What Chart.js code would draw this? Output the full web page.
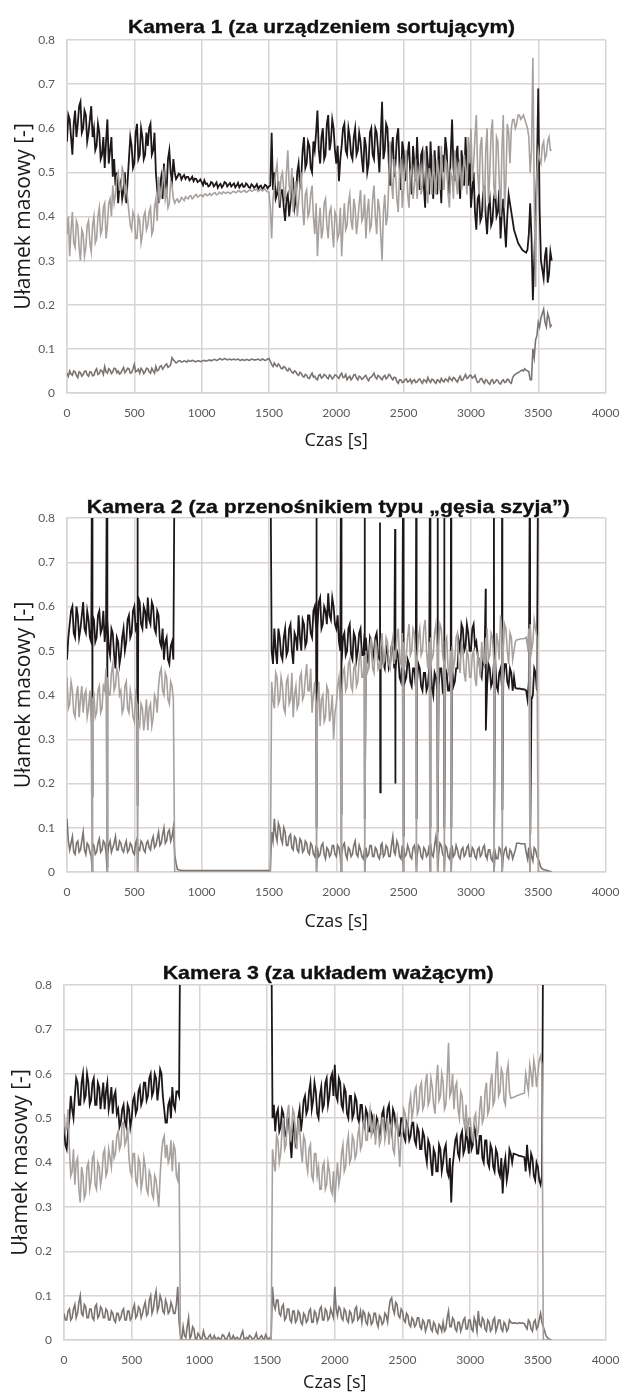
<!DOCTYPE html>
<html><head><meta charset="utf-8">
<script src="https://cdn.jsdelivr.net/npm/chart.js@4.4.1/dist/chart.umd.min.js"></script>
<style>
html,body{margin:0;padding:0;background:#fff;}
body{position:relative;width:632px;height:1394px;overflow:hidden;}
canvas{position:absolute;left:0;}
.ttl{position:absolute;white-space:nowrap;font-family:'Liberation Sans',Arial,sans-serif;font-weight:bold;font-size:18.6px;line-height:18.6px;color:#111;-webkit-text-stroke:0.35px #111;transform-origin:50% 50%;}
</style></head><body>
<canvas id="c1" width="632" height="480" style="top:0px"></canvas>
<canvas id="c2" width="632" height="480" style="top:470px"></canvas>
<canvas id="c3" width="632" height="464" style="top:930px"></canvas>
<div class="ttl" id="t1">Kamera 1 (za urządzeniem sortującym)</div>
<div class="ttl" id="t2">Kamera 2 (za przenośnikiem typu „gęsia szyja”)</div>
<div class="ttl" id="t3">Kamera 3 (za układem ważącym)</div>
<script>
// ---------- DATA ----------
const xTickLabels = ['0','500','1000','1500','2000','2500','3000','3500','4000'];
const yTickLabels = ['0','0.1','0.2','0.3','0.4','0.5','0.6','0.7','0.8'];
const tStep = 20; // main samples at t = 0, 20, ... 3600 s
const times = Array.from({length: 181}, (_, i) => i * tStep);
const midTimes = Array.from({length: 180}, (_, i) => i * tStep + 10); // in-between samples t = 10, 30, ... 3590 s

// Kamera 1
const k1Black = [
0.57,0.62,0.54,0.64,0.61,0.66,0.60,0.63,0.59,0.65,
0.60,0.56,0.59,0.54,0.51,0.62,0.55,0.49,0.47,0.43,
0.48,0.46,0.43,0.53,0.56,0.52,0.61,0.54,0.58,0.54,
0.56,0.61,0.55,0.50,0.43,0.49,0.52,0.46,0.55,0.48,
0.50,0.49,0.495,0.49,0.485,0.49,0.485,0.48,0.485,0.48,
0.478,0.482,0.475,0.47,0.476,0.472,0.465,0.474,0.47,0.476,
0.472,0.468,0.475,0.47,0.466,0.474,0.468,0.472,0.465,0.47,
0.468,0.462,0.47,0.465,0.47,0.468,0.59,0.50,0.45,0.42,
0.46,0.39,0.45,0.43,0.48,0.44,0.52,0.49,0.58,0.52,
0.56,0.50,0.55,0.64,0.52,0.60,0.54,0.63,0.57,0.60,
0.52,0.48,0.56,0.61,0.54,0.58,0.53,0.60,0.55,0.57,
0.50,0.56,0.52,0.60,0.53,0.59,0.50,0.66,0.55,0.60,
0.47,0.58,0.52,0.60,0.46,0.55,0.50,0.57,0.45,0.52,
0.58,0.46,0.55,0.42,0.52,0.57,0.44,0.50,0.56,0.43,
0.50,0.55,0.45,0.62,0.48,0.56,0.44,0.52,0.58,0.47,
0.42,0.50,0.37,0.45,0.40,0.47,0.36,0.44,0.39,0.46,
0.41,0.35,0.44,0.33,0.45,0.41,0.37,0.35,0.335,0.325,
0.32,0.325,0.43,0.21,0.40,0.69,0.30,0.26,0.33,0.27,
0.30];
const k1BlackMid = [
0.63,0.58,0.61,0.58,0.65,0.59,0.64,0.57,0.62,0.58,
0.55,0.61,0.53,0.58,0.57,0.52,0.58,0.53,0.50,0.47,
0.44,0.50,0.48,0.58,0.51,0.59,0.53,0.60,0.53,0.59,
0.60,0.54,0.59,0.46,0.47,0.44,0.47,0.53,0.50,0.53,
0.485,0.497,0.484,0.494,0.49,0.482,0.49,0.486,0.478,0.484,
0.471,0.474,0.468,0.478,0.468,0.477,0.471,0.466,0.478,0.468,
0.476,0.472,0.466,0.476,0.471,0.467,0.475,0.466,0.473,0.465,
0.473,0.468,0.463,0.472,0.464,0.47,0.46,0.44,0.48,0.46,
0.42,0.44,0.40,0.47,0.42,0.50,0.47,0.55,0.51,0.57,
0.51,0.57,0.59,0.55,0.58,0.53,0.61,0.55,0.62,0.55,
0.56,0.53,0.60,0.55,0.60,0.54,0.58,0.54,0.59,0.53,
0.58,0.50,0.59,0.54,0.60,0.55,0.58,0.53,0.61,0.52,
0.55,0.49,0.58,0.51,0.57,0.48,0.54,0.49,0.56,0.48,
0.50,0.54,0.47,0.56,0.45,0.50,0.55,0.45,0.49,0.54,
0.58,0.47,0.54,0.51,0.54,0.48,0.55,0.47,0.50,0.55,
0.46,0.41,0.44,0.39,0.45,0.40,0.42,0.38,0.44,0.40,
0.46,0.41,0.38,0.40,0.43,0.39,0.36,0.34,0.33,0.322,
0.318,0.36,0.35,0.30,0.50,0.42,0.28,0.31,0.25,0.32];
const k1Light = [
0.36,0.31,0.41,0.33,0.38,0.30,0.36,0.33,0.39,0.32,
0.40,0.35,0.42,0.37,0.43,0.38,0.44,0.47,0.45,0.50,
0.46,0.50,0.47,0.41,0.37,0.40,0.35,0.39,0.36,0.41,
0.38,0.42,0.37,0.44,0.49,0.45,0.50,0.46,0.43,0.47,
0.43,0.44,0.435,0.44,0.445,0.44,0.447,0.443,0.45,0.446,
0.448,0.45,0.447,0.452,0.45,0.454,0.45,0.453,0.456,0.452,
0.455,0.453,0.457,0.455,0.458,0.456,0.459,0.456,0.46,0.458,
0.46,0.457,0.462,0.46,0.458,0.455,0.35,0.47,0.52,0.44,
0.50,0.43,0.55,0.45,0.41,0.48,0.43,0.50,0.38,0.46,
0.41,0.47,0.36,0.31,0.42,0.37,0.44,0.35,0.42,0.33,
0.40,0.36,0.31,0.43,0.38,0.45,0.37,0.42,0.39,0.46,
0.40,0.35,0.44,0.38,0.47,0.36,0.42,0.30,0.45,0.40,
0.57,0.44,0.50,0.41,0.53,0.46,0.55,0.42,0.51,0.47,
0.44,0.52,0.47,0.55,0.43,0.49,0.54,0.45,0.50,0.56,
0.46,0.52,0.42,0.49,0.55,0.45,0.53,0.48,0.51,0.58,
0.60,0.52,0.63,0.45,0.58,0.41,0.60,0.50,0.62,0.44,
0.57,0.40,0.63,0.48,0.59,0.60,0.62,0.61,0.63,0.625,
0.62,0.60,0.50,0.76,0.24,0.55,0.52,0.57,0.54,0.58,
0.55];
const k1LightMid = [
0.40,0.37,0.34,0.39,0.33,0.37,0.31,0.38,0.34,0.38,
0.34,0.40,0.36,0.42,0.35,0.43,0.40,0.43,0.49,0.46,
0.51,0.45,0.44,0.38,0.41,0.35,0.40,0.34,0.40,0.37,
0.41,0.36,0.42,0.39,0.44,0.48,0.44,0.42,0.48,0.44,
0.437,0.432,0.443,0.436,0.442,0.446,0.44,0.448,0.444,0.449,
0.445,0.451,0.449,0.448,0.453,0.449,0.455,0.451,0.454,0.455,
0.452,0.456,0.454,0.458,0.455,0.458,0.455,0.459,0.457,0.461,
0.462,0.46,0.458,0.463,0.456,0.42,0.44,0.50,0.46,0.49,
0.46,0.50,0.47,0.51,0.46,0.40,0.47,0.42,0.45,0.40,
0.45,0.40,0.43,0.38,0.35,0.43,0.38,0.41,0.37,0.41,
0.35,0.42,0.38,0.37,0.43,0.39,0.44,0.36,0.43,0.39,
0.45,0.41,0.37,0.44,0.40,0.44,0.36,0.41,0.38,0.48,
0.48,0.53,0.44,0.50,0.42,0.51,0.45,0.50,0.44,0.53,
0.49,0.45,0.53,0.46,0.51,0.45,0.48,0.53,0.46,0.49,
0.53,0.45,0.50,0.44,0.48,0.52,0.46,0.54,0.45,0.52,
0.48,0.58,0.50,0.56,0.47,0.55,0.43,0.59,0.47,0.58,
0.48,0.55,0.42,0.61,0.52,0.62,0.60,0.63,0.62,0.63,
0.61,0.58,0.55,0.45,0.50,0.53,0.56,0.53,0.57,0.55];
const k1Dark = [
0.045,0.05,0.04,0.048,0.035,0.046,0.042,0.05,0.038,0.047,
0.04,0.055,0.044,0.05,0.06,0.045,0.052,0.048,0.055,0.05,
0.045,0.058,0.05,0.055,0.046,0.065,0.05,0.045,0.052,0.048,
0.055,0.045,0.05,0.06,0.052,0.062,0.058,0.066,0.06,0.08,
0.072,0.07,0.073,0.071,0.072,0.074,0.072,0.073,0.071,0.073,
0.072,0.074,0.073,0.075,0.074,0.076,0.075,0.078,0.076,0.077,
0.076,0.075,0.077,0.076,0.075,0.076,0.074,0.076,0.075,0.076,
0.075,0.077,0.074,0.076,0.075,0.078,0.065,0.068,0.06,0.062,
0.055,0.058,0.05,0.053,0.045,0.048,0.04,0.044,0.036,0.04,
0.033,0.045,0.038,0.03,0.042,0.036,0.04,0.032,0.038,0.035,
0.04,0.033,0.045,0.036,0.03,0.038,0.034,0.042,0.03,0.036,
0.033,0.04,0.028,0.036,0.045,0.032,0.038,0.03,0.04,0.035,
0.04,0.03,0.035,0.022,0.03,0.025,0.032,0.027,0.022,0.03,
0.025,0.032,0.022,0.028,0.035,0.024,0.03,0.022,0.028,0.033,
0.025,0.03,0.036,0.028,0.033,0.025,0.038,0.03,0.042,0.035,
0.04,0.036,0.03,0.025,0.033,0.022,0.028,0.02,0.03,0.025,
0.028,0.02,0.03,0.025,0.03,0.022,0.04,0.045,0.048,0.052,
0.055,0.05,0.03,0.10,0.12,0.16,0.17,0.19,0.15,0.17,
0.155];
const k1DarkMid = [
0.038,0.043,0.05,0.04,0.048,0.038,0.049,0.041,0.048,0.039,
0.05,0.042,0.052,0.042,0.048,0.055,0.044,0.056,0.046,0.043,
0.052,0.046,0.056,0.045,0.055,0.048,0.054,0.056,0.044,0.056,
0.048,0.056,0.045,0.05,0.06,0.054,0.063,0.058,0.064,0.075,
0.068,0.073,0.07,0.073,0.07,0.072,0.074,0.071,0.073,0.071,
0.073,0.072,0.074,0.073,0.076,0.074,0.077,0.075,0.078,0.075,
0.077,0.076,0.075,0.077,0.074,0.075,0.076,0.074,0.077,0.075,
0.076,0.075,0.077,0.074,0.077,0.072,0.06,0.063,0.066,0.056,
0.06,0.052,0.056,0.047,0.05,0.042,0.047,0.038,0.042,0.034,
0.04,0.036,0.032,0.04,0.034,0.042,0.035,0.041,0.032,0.041,
0.036,0.041,0.035,0.042,0.035,0.03,0.041,0.034,0.038,0.031,
0.038,0.032,0.035,0.04,0.036,0.04,0.033,0.037,0.032,0.042,
0.034,0.036,0.026,0.03,0.024,0.03,0.025,0.031,0.028,0.024,
0.03,0.026,0.03,0.024,0.028,0.031,0.025,0.03,0.024,0.028,
0.032,0.026,0.031,0.035,0.028,0.033,0.029,0.036,0.033,0.04,
0.034,0.04,0.024,0.032,0.026,0.03,0.022,0.028,0.022,0.03,
0.022,0.027,0.024,0.031,0.024,0.035,0.042,0.046,0.05,0.05,
0.052,0.048,0.03,0.08,0.13,0.15,0.18,0.16,0.18,0.15];

// Kamera 2
const k2Black = [
0.48,0.56,0.60,0.53,0.58,0.55,0.61,0.54,0.57,0.52,
0.57,0.53,0.59,0.55,0.52,0.57,0.49,0.54,0.46,0.52,
0.49,0.55,0.52,0.58,0.54,0.60,0.56,0.61,0.55,0.59,
0.62,0.56,0.60,0.54,0.58,0.51,0.48,0.53,0.47,0.52,
1,1,1,1,1,1,1,1,1,1,
1,1,1,1,1,1,1,1,1,1,
1,1,1,1,1,1,1,1,1,1,
1,1,1,1,1,1,0.50,0.55,0.47,0.53,
0.48,0.55,0.50,0.56,0.47,0.53,0.58,0.50,0.56,0.52,
0.58,0.53,0.60,0.55,0.62,0.56,0.59,0.63,0.57,0.60,
0.55,0.52,0.47,0.54,0.50,0.56,0.48,0.53,0.50,0.55,
0.49,0.53,0.47,0.52,0.50,0.54,0.48,0.51,0.46,0.50,
0.47,0.52,0.45,0.49,0.43,0.48,0.44,0.47,0.42,0.46,
0.43,0.46,0.41,0.45,0.42,0.47,0.40,0.44,0.42,0.46,
0.42,0.45,0.41,0.47,0.43,0.46,0.50,0.55,0.51,0.54,
0.50,0.56,0.52,0.48,0.44,0.47,0.42,0.46,0.43,0.48,
0.41,0.46,0.43,0.47,0.42,0.45,0.44,0.415,0.415,0.413,
0.412,0.39,0.44,0.40,0.45,1,1,1,1,1,
1];
const k2BlackMid = [
0.53,0.59,0.54,0.60,0.53,0.58,0.55,0.59,0.53,0.58,
0.52,0.58,0.54,0.59,0.56,0.51,0.55,0.49,0.53,0.47,
0.53,0.50,0.57,0.53,0.59,0.55,0.62,0.56,0.60,0.55,
0.57,0.61,0.55,0.59,0.52,0.55,0.52,0.48,0.51,0.48,
1,1,1,1,1,1,1,1,1,1,
1,1,1,1,1,1,1,1,1,1,
1,1,1,1,1,1,1,1,1,1,
1,1,1,1,1,1,0.47,0.50,0.55,0.49,
0.53,0.49,0.55,0.50,0.54,0.50,0.53,0.57,0.51,0.58,
0.54,0.59,0.55,0.61,0.55,0.60,0.56,0.58,0.62,0.56,
0.58,0.50,0.53,0.49,0.55,0.49,0.54,0.48,0.54,0.49,
0.54,0.48,0.53,0.48,0.53,0.49,0.52,0.47,0.51,0.46,
0.51,0.46,0.50,0.44,0.48,0.43,0.48,0.43,0.46,0.42,
0.47,0.42,0.45,0.41,0.46,0.42,0.45,0.41,0.46,0.41,
0.46,0.41,0.46,0.42,0.46,0.52,0.56,0.50,0.56,0.50,
0.55,0.51,0.49,0.45,0.48,0.43,0.47,0.42,0.47,0.42,
0.45,0.42,0.47,0.43,0.46,0.41,0.416,0.414,0.414,0.413,
0.41,0.43,0.39,0.46,0.41,1,1,1,1,1];
const k2Light = [
0.44,0.38,0.41,0.35,0.42,0.39,0.36,0.41,0.37,0.33,
0.40,0.36,0.42,0.37,0.41,0.44,0.40,0.47,0.42,0.45,
0.41,0.37,0.43,0.36,0.39,0.34,0.38,0.33,0.37,0.35,
0.32,0.38,0.35,0.39,0.42,0.46,0.40,0.44,0.38,0.42,
0,0,0,0,0,0,0,0,0,0,
0,0,0,0,0,0,0,0,0,0,
0,0,0,0,0,0,0,0,0,0,
0,0,0,0,0,0,0.43,0.37,0.44,0.39,
0.42,0.36,0.44,0.39,0.35,0.42,0.38,0.45,0.40,0.47,
0.41,0.36,0.43,0.38,0.33,0.40,0.35,0.41,0.36,0.30,
0.38,0.44,0.40,0.46,0.42,0.48,0.41,0.47,0.43,0.50,
0.44,0.50,0.46,0.53,0.45,0.51,0.47,0.54,0.48,0.52,
0.46,0.53,0.48,0.55,0.47,0.52,0.49,0.56,0.50,0.54,
0.48,0.55,0.50,0.57,0.46,0.53,0.49,0.56,0.51,0.55,
0.47,0.53,0.44,0.51,0.48,0.54,0.45,0.50,0.43,0.49,
0.44,0.50,0.42,0.48,0.52,0.47,0.55,0.49,0.53,0.46,
0.52,0.58,0.50,0.55,0.47,0.53,0.50,0.525,0.526,0.527,
0.528,0.51,0.56,0.52,0.55,0,0,0,0,0,
0];
const k2LightMid = [
0.37,0.43,0.36,0.40,0.35,0.42,0.40,0.35,0.41,0.39,
0.35,0.41,0.36,0.42,0.46,0.40,0.45,0.41,0.46,0.40,
0.36,0.42,0.37,0.41,0.35,0.40,0.34,0.38,0.32,0.39,
0.37,0.33,0.40,0.36,0.45,0.41,0.45,0.39,0.43,0.39,
0,0,0,0,0,0,0,0,0,0,
0,0,0,0,0,0,0,0,0,0,
0,0,0,0,0,0,0,0,0,0,
0,0,0,0,0,0,0.39,0.45,0.38,0.44,
0.37,0.43,0.38,0.45,0.40,0.37,0.44,0.39,0.44,0.41,
0.46,0.40,0.37,0.43,0.39,0.34,0.42,0.34,0.40,0.36,
0.42,0.38,0.45,0.41,0.47,0.42,0.46,0.42,0.48,0.44,
0.49,0.45,0.51,0.46,0.52,0.46,0.51,0.47,0.53,0.47,
0.51,0.47,0.53,0.48,0.54,0.47,0.53,0.49,0.55,0.48,
0.53,0.49,0.55,0.50,0.52,0.48,0.54,0.50,0.56,0.49,
0.52,0.46,0.50,0.46,0.53,0.47,0.52,0.45,0.50,0.44,
0.49,0.44,0.49,0.44,0.48,0.53,0.48,0.54,0.48,0.54,
0.48,0.54,0.56,0.50,0.54,0.48,0.52,0.525,0.527,0.527,
0.53,0.55,0.50,0.57,0.53,0,0,0,0,0];
const k2Dark = [
0.12,0.05,0.08,0.04,0.07,0.05,0.09,0.04,0.06,0.035,
0.06,0.045,0.075,0.05,0.065,0.04,0.07,0.055,0.08,0.05,
0.065,0.045,0.07,0.05,0.06,0.04,0.075,0.05,0.065,0.045,
0.07,0.05,0.08,0.06,0.09,0.065,0.10,0.07,0.095,0.08,
0.04,0.006,0.004,0.003,0.003,0.003,0.003,0.003,0.003,0.003,
0.003,0.003,0.003,0.003,0.003,0.003,0.003,0.003,0.003,0.003,
0.003,0.003,0.003,0.003,0.003,0.003,0.003,0.003,0.003,0.003,
0.003,0.003,0.003,0.003,0.003,0.003,0.09,0.12,0.07,0.10,
0.065,0.09,0.06,0.085,0.05,0.075,0.045,0.07,0.05,0.065,
0.04,0.06,0.035,0.055,0.04,0.065,0.03,0.05,0.04,0.06,
0.035,0.055,0.04,0.065,0.03,0.05,0.04,0.07,0.035,0.05,
0.03,0.055,0.04,0.06,0.035,0.05,0.03,0.065,0.04,0.055,
0.035,0.08,0.04,0.06,0.03,0.055,0.04,0.05,0.03,0.06,
0.035,0.055,0.03,0.05,0.04,0.065,0.035,0.08,0.04,0.06,
0.035,0.055,0.03,0.06,0.04,0.05,0.03,0.055,0.04,0.06,
0.035,0.05,0.03,0.055,0.04,0.06,0.03,0.05,0.025,0.045,
0.03,0.05,0.035,0.055,0.03,0.045,0.04,0.065,0.065,0.064,
0.064,0.03,0.06,0.025,0.05,0.03,0.01,0.005,0.004,0.002,
0];
const k2DarkMid = [
0.07,0.065,0.045,0.065,0.045,0.07,0.05,0.065,0.045,0.065,
0.04,0.065,0.045,0.07,0.045,0.06,0.045,0.065,0.05,0.07,
0.05,0.06,0.045,0.065,0.045,0.065,0.055,0.07,0.05,0.065,
0.055,0.07,0.055,0.075,0.06,0.085,0.065,0.09,0.07,0.10,
0.02,0.005,0.004,0.003,0.003,0.003,0.003,0.003,0.003,0.003,
0.003,0.003,0.003,0.003,0.003,0.003,0.003,0.003,0.003,0.003,
0.003,0.003,0.003,0.003,0.003,0.003,0.003,0.003,0.003,0.003,
0.003,0.003,0.003,0.003,0.003,0.003,0.07,0.085,0.11,0.075,
0.10,0.06,0.08,0.055,0.08,0.05,0.075,0.045,0.07,0.045,
0.065,0.04,0.06,0.035,0.06,0.04,0.055,0.035,0.06,0.04,
0.06,0.035,0.06,0.04,0.055,0.035,0.06,0.04,0.06,0.035,
0.05,0.035,0.06,0.035,0.055,0.035,0.06,0.035,0.06,0.035,
0.06,0.045,0.07,0.035,0.06,0.035,0.06,0.035,0.055,0.04,
0.06,0.035,0.055,0.035,0.06,0.04,0.06,0.045,0.065,0.04,
0.06,0.035,0.055,0.035,0.06,0.035,0.05,0.035,0.055,0.035,
0.055,0.035,0.05,0.035,0.055,0.035,0.05,0.03,0.05,0.03,
0.055,0.03,0.05,0.035,0.05,0.03,0.05,0.065,0.064,0.064,
0.045,0.055,0.035,0.055,0.035,0.02,0.007,0.005,0.003,0.001];
// Kamera 2 short spikes (time [s], black peak, black trough, light value, dark value)
const k2SpikeTime  = [186,297,523,1852,2035,2210,2324,2436,2497,2594,2696,2752,2801,2852,3109,3170,3231,3438];
const k2SpikeTop   = [1,1,1,1,1,1,0.79,0.775,1,1,1,1,1,1,0.64,1,1,1];
const k2SpikeLow   = [0.17,0.01,0.15,0.1,0.13,0.12,0.18,0.2,0.08,0.12,0.1,0.09,0.1,0.1,0.32,0.1,0.14,0.085];
const k2SpikeLight = [0,0,0,0,0,0,0.46,0.5,0,0,0,0,0,0,0.47,0,0,0];
const k2SpikeDark  = [0,0,0,0,0,0,0.04,0.04,0,0,0,0,0,0,0.04,0,0,0];

// Kamera 3
const k3Black = [
0.48,0.43,0.50,0.52,0.55,0.58,0.53,0.60,0.55,0.58,
0.54,0.59,0.53,0.57,0.55,0.52,0.58,0.54,0.51,0.56,
0.52,0.49,0.53,0.48,0.52,0.50,0.55,0.52,0.57,0.54,
0.58,0.55,0.60,0.56,0.59,0.57,0.60,0.52,0.49,0.54,
0.57,0.52,0.56,1,1,1,1,1,1,1,
1,1,1,1,1,1,1,1,1,1,
1,1,1,1,1,1,1,1,1,1,
1,1,1,1,1,1,1,0.50,0.47,0.52,
0.48,0.51,0.46,0.50,0.41,0.49,0.45,0.52,0.50,0.55,
0.52,0.58,0.54,0.56,0.50,0.57,0.53,0.59,0.55,0.60,
0.62,0.54,0.58,0.52,0.56,0.50,0.55,0.51,0.54,0.49,
0.53,0.48,0.51,0.47,0.50,0.46,0.49,0.47,0.52,0.48,
0.53,0.47,0.51,0.49,0.46,0.50,0.45,0.48,0.46,0.49,
0.44,0.47,0.43,0.46,0.40,0.44,0.37,0.42,0.38,0.43,
0.40,0.44,0.37,0.31,0.42,0.46,0.41,0.47,0.43,0.45,
0.48,0.44,0.47,0.42,0.46,0.40,0.45,0.39,0.43,0.38,
0.42,0.37,0.33,0.41,0.38,0.42,0.42,0.418,0.415,0.414,
0.412,0.44,0.38,0.41,0.36,0.39,0.35,1,1,1,
1];
const k3BlackMid = [
0.44,0.47,0.55,0.50,0.59,0.53,0.58,0.54,0.60,0.53,
0.58,0.53,0.58,0.52,0.58,0.56,0.52,0.57,0.55,0.51,
0.48,0.52,0.49,0.53,0.48,0.54,0.51,0.56,0.53,0.58,
0.54,0.59,0.55,0.60,0.54,0.61,0.55,0.49,0.53,0.50,
0.53,0.56,0.55,1,1,1,1,1,1,1,
1,1,1,1,1,1,1,1,1,1,
1,1,1,1,1,1,1,1,1,1,
1,1,1,1,1,1,1,0.53,0.51,0.47,
0.52,0.46,0.50,0.45,0.47,0.44,0.50,0.47,0.54,0.51,
0.56,0.52,0.58,0.51,0.55,0.52,0.58,0.53,0.59,0.55,
0.55,0.59,0.53,0.57,0.51,0.55,0.50,0.55,0.50,0.53,
0.49,0.52,0.47,0.51,0.47,0.50,0.46,0.51,0.47,0.52,
0.49,0.52,0.48,0.46,0.50,0.46,0.49,0.45,0.49,0.45,
0.48,0.43,0.47,0.42,0.45,0.40,0.43,0.38,0.44,0.38,
0.43,0.38,0.41,0.39,0.45,0.42,0.46,0.42,0.47,0.42,
0.43,0.48,0.42,0.46,0.41,0.45,0.40,0.44,0.39,0.43,
0.38,0.41,0.39,0.36,0.43,0.40,0.419,0.417,0.415,0.413,
0.38,0.40,0.42,0.37,0.40,0.36,0.37,1,1,1];
const k3Light = [
0.51,0.48,0.43,0.38,0.35,0.41,0.31,0.37,0.33,0.40,
0.36,0.42,0.34,0.39,0.37,0.43,0.38,0.41,0.45,0.42,
0.47,0.44,0.49,0.45,0.41,0.37,0.42,0.35,0.40,0.36,
0.39,0.33,0.37,0.32,0.36,0.30,0.42,0.46,0.44,0.41,
0.38,0.43,0.36,0,0,0,0,0,0,0,
0,0,0,0,0,0,0,0,0,0,
0,0,0,0,0,0,0,0,0,0,
0,0,0,0,0,0,0,0.43,0.38,0.45,
0.42,0.50,0.44,0.53,0.46,0.51,0.43,0.48,0.40,0.45,
0.38,0.44,0.36,0.42,0.39,0.34,0.40,0.35,0.38,0.33,
0.31,0.40,0.37,0.44,0.39,0.46,0.41,0.45,0.42,0.48,
0.44,0.50,0.45,0.52,0.47,0.44,0.49,0.45,0.50,0.47,
0.44,0.49,0.42,0.50,0.39,0.47,0.51,0.48,0.55,0.52,
0.57,0.52,0.58,0.53,0.60,0.54,0.57,0.51,0.62,0.55,
0.58,0.53,0.67,0.56,0.52,0.58,0.50,0.55,0.48,0.46,
0.50,0.45,0.51,0.47,0.55,0.50,0.58,0.52,0.60,0.54,
0.65,0.56,0.60,0.53,0.62,0.545,0.547,0.55,0.552,0.555,
0.556,0.58,0.62,0.57,0.61,0.60,0.64,0,0,0,
0];
const k3LightMid = [
0.47,0.52,0.37,0.43,0.40,0.34,0.39,0.32,0.39,0.34,
0.41,0.35,0.40,0.35,0.42,0.37,0.43,0.39,0.41,0.46,
0.43,0.49,0.44,0.48,0.38,0.42,0.36,0.41,0.34,0.41,
0.34,0.38,0.33,0.37,0.33,0.37,0.45,0.41,0.40,0.45,
0.44,0.37,0.40,0,0,0,0,0,0,0,
0,0,0,0,0,0,0,0,0,0,
0,0,0,0,0,0,0,0,0,0,
0,0,0,0,0,0,0,0.40,0.46,0.40,
0.47,0.43,0.51,0.45,0.52,0.45,0.50,0.43,0.46,0.40,
0.43,0.37,0.42,0.37,0.34,0.39,0.34,0.40,0.34,0.38,
0.36,0.35,0.42,0.38,0.44,0.40,0.46,0.41,0.46,0.43,
0.49,0.45,0.50,0.46,0.51,0.48,0.44,0.50,0.45,0.50,
0.48,0.43,0.48,0.44,0.46,0.52,0.46,0.53,0.50,0.56,
0.51,0.57,0.52,0.58,0.53,0.59,0.53,0.58,0.54,0.60,
0.52,0.59,0.55,0.60,0.57,0.52,0.56,0.50,0.53,0.50,
0.46,0.50,0.46,0.52,0.49,0.56,0.51,0.58,0.53,0.61,
0.55,0.61,0.54,0.60,0.56,0.546,0.548,0.551,0.553,0.555,
0.60,0.56,0.60,0.63,0.57,0.63,0.62,0,0,0];
const k3Dark = [
0.06,0.045,0.07,0.05,0.08,0.06,0.10,0.055,0.075,0.05,
0.07,0.045,0.08,0.055,0.07,0.05,0.065,0.045,0.06,0.04,
0.06,0.05,0.07,0.045,0.065,0.05,0.08,0.055,0.07,0.06,
0.085,0.06,0.10,0.07,0.11,0.075,0.09,0.06,0.08,0.065,
0.075,0.06,0.12,0.01,0.03,0.005,0.05,0.01,0.025,0.002,
0.01,0.003,0.008,0.002,0.012,0.003,0.002,0.006,0.002,0.01,
0.002,0.015,0.003,0.002,0.006,0.002,0.02,0.003,0.002,0.008,
0.003,0.015,0.002,0.01,0.003,0.004,0.005,0.12,0.07,0.09,
0.055,0.08,0.05,0.07,0.04,0.065,0.045,0.06,0.035,0.055,
0.045,0.07,0.04,0.06,0.05,0.075,0.045,0.065,0.05,0.06,
0.12,0.055,0.07,0.045,0.065,0.04,0.06,0.045,0.075,0.05,
0.04,0.06,0.035,0.055,0.04,0.06,0.03,0.05,0.04,0.055,
0.07,0.095,0.06,0.08,0.05,0.065,0.04,0.055,0.03,0.045,
0.035,0.05,0.025,0.04,0.03,0.045,0.02,0.035,0.015,0.03,
0.04,0.025,0.065,0.03,0.045,0.02,0.04,0.03,0.05,0.025,
0.045,0.02,0.04,0.065,0.03,0.045,0.02,0.04,0.025,0.05,
0.03,0.045,0.02,0.035,0.025,0.04,0.038,0.038,0.039,0.038,
0.037,0.025,0.04,0.02,0.045,0.03,0.06,0.03,0.01,0.003,
0];
const k3DarkMid = [
0.045,0.065,0.045,0.07,0.05,0.085,0.06,0.08,0.05,0.07,
0.05,0.075,0.05,0.075,0.05,0.07,0.045,0.065,0.045,0.06,
0.045,0.065,0.045,0.065,0.045,0.07,0.05,0.075,0.05,0.075,
0.055,0.09,0.06,0.095,0.065,0.10,0.065,0.09,0.06,0.085,
0.06,0.08,0.04,0.003,0.01,0.03,0.003,0.03,0.003,0.015,
0.002,0.02,0.002,0.008,0.002,0.01,0.003,0.002,0.012,0.002,
0.008,0.002,0.01,0.004,0.002,0.012,0.002,0.006,0.01,0.002,
0.006,0.002,0.006,0.002,0.012,0.002,0.004,0.08,0.09,0.06,
0.075,0.045,0.07,0.045,0.065,0.04,0.065,0.04,0.06,0.04,
0.065,0.04,0.065,0.04,0.07,0.045,0.07,0.045,0.07,0.05,
0.07,0.075,0.05,0.07,0.045,0.065,0.04,0.07,0.045,0.065,
0.065,0.04,0.06,0.035,0.06,0.04,0.055,0.035,0.06,0.04,
0.09,0.07,0.085,0.055,0.07,0.045,0.06,0.035,0.05,0.03,
0.05,0.03,0.045,0.02,0.045,0.025,0.04,0.02,0.035,0.02,
0.02,0.05,0.03,0.05,0.025,0.04,0.02,0.045,0.025,0.045,
0.025,0.05,0.02,0.035,0.05,0.025,0.045,0.02,0.045,0.02,
0.045,0.025,0.04,0.02,0.045,0.038,0.039,0.037,0.038,0.038,
0.03,0.045,0.025,0.04,0.025,0.045,0.04,0.02,0.005,0.001];

// ---------- STYLE ----------
const C_BLACK = '#1d1719', C_LIGHT = '#a7a29f', C_DARK = '#7a7572', C_GRID = '#d8d4d1';

function pts(vals, mids, extra) {
  const p = times.map((t, i) => ({x: t, y: vals[i]}));
  midTimes.forEach((t, i) => p.push({x: t, y: mids[i]}));
  (extra || []).forEach(e => p.push(e));
  p.sort((a, b) => a.x - b.x);
  return p;
}
const k2BlackExtra = [], k2LightExtra = [], k2DarkExtra = [];
k2SpikeTime.forEach((t, i) => {
  k2BlackExtra.push({x: t + 0.5, y: k2SpikeTop[i]}, {x: t + 2.5, y: k2SpikeLow[i]});
  k2LightExtra.push({x: t + 1, y: k2SpikeLight[i]});
  k2DarkExtra.push({x: t + 1.5, y: k2SpikeDark[i]});
});

function makeChart(id, black, light, dark, L) {
  new Chart(document.getElementById(id), {
    type: 'line',
    data: {datasets: [
      {data: light, borderColor: C_LIGHT, borderWidth: 1.6, order: 1},
      {data: black, borderColor: C_BLACK, borderWidth: 1.8, order: 2},
      {data: dark, borderColor: C_DARK, borderWidth: 1.6, order: 3}
    ]},
    options: {
      responsive: false, animation: false, events: [],
      elements: {point: {radius: 0}, line: {tension: 0}},
      layout: {padding: {top: L.padTop, right: 16, bottom: 0, left: 0}},
      plugins: {legend: {display: false}, tooltip: {enabled: false}, title: {display: false}},
      scales: {
        x: {
          type: 'linear', min: 0, max: 4000,
          afterFit: s => { s.height = L.axisH; },
          grid: {color: C_GRID, lineWidth: 1.5, drawTicks: false},
          border: {display: true, color: C_GRID, width: 1.5},
          ticks: {stepSize: 500, padding: 12.5, color: '#595959', autoSkip: false, maxRotation: 0,
                  font: {family: 'Lato', size: 12},
                  callback: v => xTickLabels[Math.round(v / 500)]},
          title: {display: true, text: 'Czas [s]', color: '#1a1a1a',
                  font: {family: "'Open Sans'", size: 18}, padding: {top: 0, bottom: L.xTitlePad}}
        },
        y: {
          min: 0, max: 0.8,
          afterFit: s => { s.width = L.yw; },
          grid: {color: C_GRID, lineWidth: 1.5, drawTicks: false},
          border: {display: true, color: C_GRID, width: 1.5},
          ticks: {stepSize: 0.1, padding: 12, color: '#595959',
                  font: {family: 'Lato', size: 12},
                  callback: v => yTickLabels[Math.round(v * 10)]},
          title: {display: true, text: 'Ułamek masowy [-]', color: '#1a1a1a',
                  font: {family: "'Open Sans'", size: 21}, padding: {top: L.yTitlePad, bottom: 0}}
        }
      }
    }
  });
}

makeChart('c1', pts(k1Black, k1BlackMid), pts(k1Light, k1LightMid), pts(k1Dark, k1DarkMid),
  {padTop: 40, axisH: 87, yw: 67, yTitlePad: 11.6, xTitlePad: 28.2});
makeChart('c2', pts(k2Black, k2BlackMid, k2BlackExtra), pts(k2Light, k2LightMid, k2LightExtra), pts(k2Dark, k2DarkMid, k2DarkExtra),
  {padTop: 48, axisH: 78, yw: 67, yTitlePad: 11.6, xTitlePad: 17.2});
makeChart('c3', pts(k3Black, k3BlackMid), pts(k3Light, k3LightMid), pts(k3Dark, k3DarkMid),
  {padTop: 55, axisH: 54, yw: 64, yTitlePad: 8.6, xTitlePad: 0});

// ---------- TITLES ----------
const titleLayout = [
  {id: 't1', cx: 321.5, w: 387, base: 33.5},
  {id: 't2', cx: 328, w: 483, base: 514},
  {id: 't3', cx: 327.8, w: 331, base: 980}
];
titleLayout.forEach(o => {
  const el = document.getElementById(o.id);
  const w0 = el.getBoundingClientRect().width;
  el.style.left = (o.cx - w0 / 2) + 'px';
  el.style.top = (o.base - 15.74) + 'px';
  el.style.transform = 'scaleX(' + (o.w / w0) + ')';
});
</script>
</body></html>
